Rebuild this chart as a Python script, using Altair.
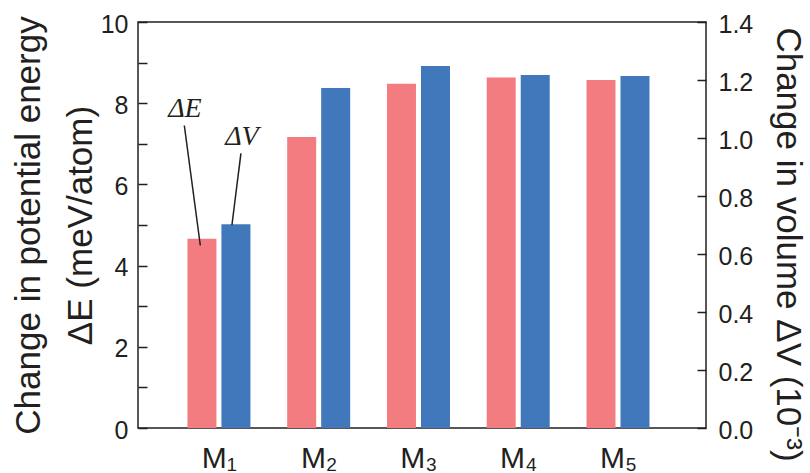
import json
import altair as alt
import pandas as pd

# ---- data ----
categories = ["M₁", "M₂", "M₃", "M₄", "M₅"]
positions = [1, 2, 3, 4, 5]
delta_E = [4.66, 7.17, 8.48, 8.63, 8.57]          # meV/atom (left axis)
delta_V = [0.703, 1.172, 1.248, 1.217, 1.214]     # 10^-3 (right axis)
left_ticks = [0, 1, 2, 3, 4, 5, 6, 7, 8, 9, 10]
right_ticks = [0.0, 0.2, 0.4, 0.6, 0.8, 1.0, 1.2, 1.4]

df = pd.DataFrame({"cat": categories, "pos": positions, "dE": delta_E, "dV": delta_V})

PINK = "#F27C80"
BLUE = "#4177BB"
TXT = "#231F20"
FONT = "Liberation Sans"

x_enc = alt.X(
    "pos:Q",
    scale=alt.Scale(domain=[0.239, 5.832], nice=False, zero=False),
    axis=alt.Axis(
        values=positions,
        labelExpr=json.dumps(categories, ensure_ascii=False) + "[datum.value - 1]",
        title=None, ticks=False, tickSize=0, domain=False, grid=False,
        labelFont=FONT, labelFontSize=30, labelColor=TXT, labelPadding=15,
        labelFlush=False, labelOverlap=False,
    ),
)

yE = alt.Y(
    "dE:Q",
    scale=alt.Scale(domain=[0, 10], nice=False, zero=True),
    axis=alt.Axis(
        orient="left", values=left_ticks, offset=-9,
        labelExpr="datum.value % 2 === 0 ? datum.label : ''",
        domain=False, grid=False, ticks=True, tickSize=9, tickWidth=1.5, tickColor=TXT,
        labelFont=FONT, labelFontSize=25, labelColor=TXT, labelPadding=10, labelOffset=2,
        labelOverlap=False, labelFlush=False,
        title=["Change in potential energy", "ΔE (meV/atom)"],
        titleFont=FONT, titleFontSize=35, titleFontWeight="normal", titleColor=TXT,
        titleAngle=270, titleAlign="center", titleBaseline="alphabetic",
        titleX=-108, titleY=203, titleLineHeight=52,
    ),
)

yV = alt.Y(
    "dV:Q",
    scale=alt.Scale(domain=[0, 1.4], nice=False, zero=True),
    axis=alt.Axis(
        orient="right", values=right_ticks, format=".1f", offset=-9,
        domain=False, grid=False, ticks=True, tickSize=9, tickWidth=1.5, tickColor=TXT,
        labelFont=FONT, labelFontSize=25, labelColor=TXT, labelPadding=12, labelOffset=2,
        labelOverlap=False, labelFlush=False,
        title="Change in volume ΔV  (10⁻³)",
        titleFont=FONT, titleFontSize=35, titleFontWeight="normal", titleColor=TXT,
        titleAngle=90, titleAlign="center", titleBaseline="alphabetic",
        titleX=79, titleY=222,
    ),
)

base = alt.Chart(df)
first = base.transform_filter(alt.datum.pos == positions[0])

pink = base.mark_bar(size=29, color=PINK, xOffset=-17).encode(x=x_enc, y=yE)
text_E = first.mark_text(
    text="ΔE", font="Liberation Serif", fontStyle="italic", fontSize=28, color=TXT,
    align="center", baseline="alphabetic", dx=-34, dy=-122,
).encode(x=x_enc, y=yE)
rule_E = first.mark_rule(
    color=TXT, strokeWidth=1.5, xOffset=-18.6, x2Offset=-34.6, yOffset=6.7, y2Offset=-113.3,
).encode(x=x_enc, x2="pos", y=yE, y2="dE")

blue = base.mark_bar(size=29, color=BLUE, xOffset=17).encode(x=x_enc, y=yV)
text_V = first.mark_text(
    text="ΔV", font="Liberation Serif", fontStyle="italic", fontSize=28, color=TXT,
    align="center", baseline="alphabetic", dx=23, dy=-79,
).encode(x=x_enc, y=yV)
rule_V = first.mark_rule(
    color=TXT, strokeWidth=1.5, xOffset=13, x2Offset=22, yOffset=1, y2Offset=-70.7,
).encode(x=x_enc, x2="pos", y=yV, y2="dV")

left_group = alt.layer(pink, text_E, rule_E)
right_group = alt.layer(blue, text_V, rule_V)

chart = (
    alt.layer(left_group, right_group)
    .resolve_scale(y="independent")
    .properties(
        width=568, height=406,
        autosize=alt.AutoSizeParams(type="none"),
        padding={"left": 138, "top": 22, "right": 104, "bottom": 45},
        background="white",
    )
    .configure_view(stroke=TXT, strokeWidth=1.5)
)

chart.save("out.html", embed_options={"renderer": "svg", "actions": False})
